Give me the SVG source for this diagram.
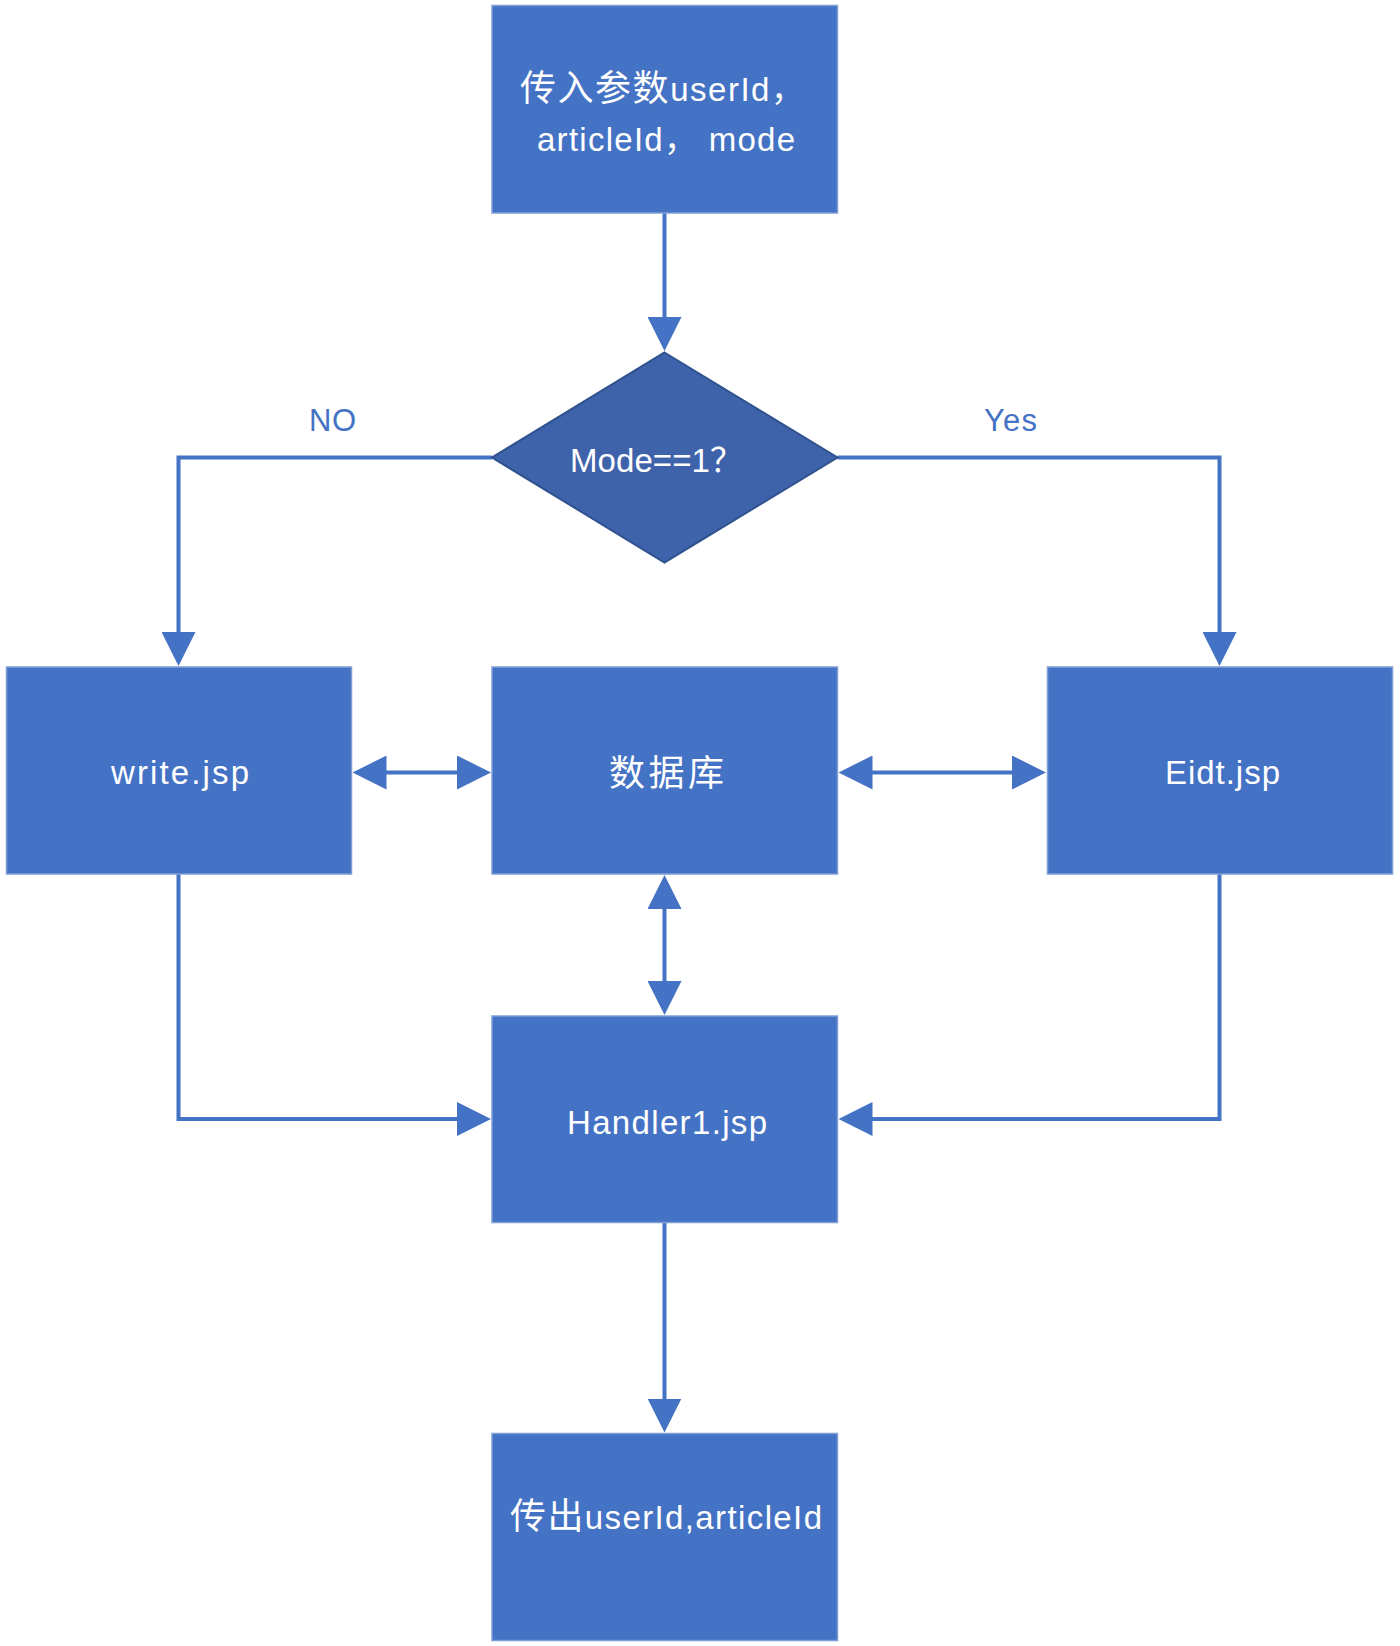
<svg xmlns="http://www.w3.org/2000/svg" width="1400" height="1646" viewBox="0 0 1400 1646">
<style>
.box{fill:#4472C4;stroke:#7F9ED6;stroke-width:1.5}
.dia{fill:#3F63AA;stroke:#2F528F;stroke-width:2}
.t{fill:#FFFFFF;font-family:"Liberation Sans","Noto Sans CJK SC",sans-serif;font-size:33px}
.cjk{font-family:"Noto Sans CJK SC",sans-serif;font-size:36px}
.lbl{fill:#4472C4;font-family:"Liberation Sans","Noto Sans CJK SC",sans-serif;font-size:31px}
.c{fill:none;stroke:#4472C4;stroke-width:4}
</style>
<defs>
<marker id="ah" markerUnits="userSpaceOnUse" markerWidth="34" markerHeight="34" viewBox="0 0 34 34" refX="1" refY="17" orient="auto-start-reverse">
<path d="M0,0 L34,17 L0,34 Z" fill="#4472C4"/>
</marker>
</defs>
<rect width="1400" height="1646" fill="#FFFFFF"/>
<g id="connectors">
<path class="c" d="M664.5,213 V318" marker-end="url(#ah)"/>
<path class="c" d="M492,457.5 H178.5 V633" marker-end="url(#ah)"/>
<path class="c" d="M837.5,457.5 H1219.5 V633" marker-end="url(#ah)"/>
<path class="c" d="M385.5,772.5 H458" marker-start="url(#ah)" marker-end="url(#ah)"/>
<path class="c" d="M871.5,772.5 H1013" marker-start="url(#ah)" marker-end="url(#ah)"/>
<path class="c" d="M664.5,908 V982" marker-start="url(#ah)" marker-end="url(#ah)"/>
<path class="c" d="M178.5,874 V1119 H458" marker-end="url(#ah)"/>
<path class="c" d="M1219.5,874 V1119 H871.5" marker-end="url(#ah)"/>
<path class="c" d="M664.5,1222.5 V1399.5" marker-end="url(#ah)"/>
</g>
<g id="n_input">
<rect class="box" x="492" y="5.5" width="345.5" height="207.5"/>
<text class="t" x="520" y="101" textLength="284"><tspan class="cjk">传入参数</tspan>userId，</text>
<text class="t" x="537" y="151" textLength="258">articleId， mode</text>
</g>
<g id="n_decision">
<polygon class="dia" points="664.5,352.5 837.5,457.5 664.5,562.5 492,457.5"/>
<text class="t" x="570" y="472" textLength="173">Mode==1？</text>
</g>
<g id="l_no"><text class="lbl" x="309" y="431" textLength="47">NO</text></g>
<g id="l_yes"><text class="lbl" x="984" y="431" textLength="53">Yes</text></g>
<g id="n_write">
<rect class="box" x="6.5" y="667" width="345" height="207"/>
<text class="t" x="111" y="784" textLength="138">write.jsp</text>
</g>
<g id="n_db">
<rect class="box" x="492" y="667" width="345.5" height="207"/>
<text class="t cjk" x="609" y="786" textLength="115">数据库</text>
</g>
<g id="n_edit">
<rect class="box" x="1047.5" y="667" width="345" height="207"/>
<text class="t" x="1165" y="784" textLength="115">Eidt.jsp</text>
</g>
<g id="n_handler">
<rect class="box" x="492" y="1016" width="345.5" height="206.5"/>
<text class="t" x="567" y="1134" textLength="200">Handler1.jsp</text>
</g>
<g id="n_output">
<rect class="box" x="492" y="1433.5" width="345.5" height="207"/>
<text class="t" x="510" y="1529" textLength="312"><tspan class="cjk">传出</tspan>userId,articleId</text>
</g>
</svg>
